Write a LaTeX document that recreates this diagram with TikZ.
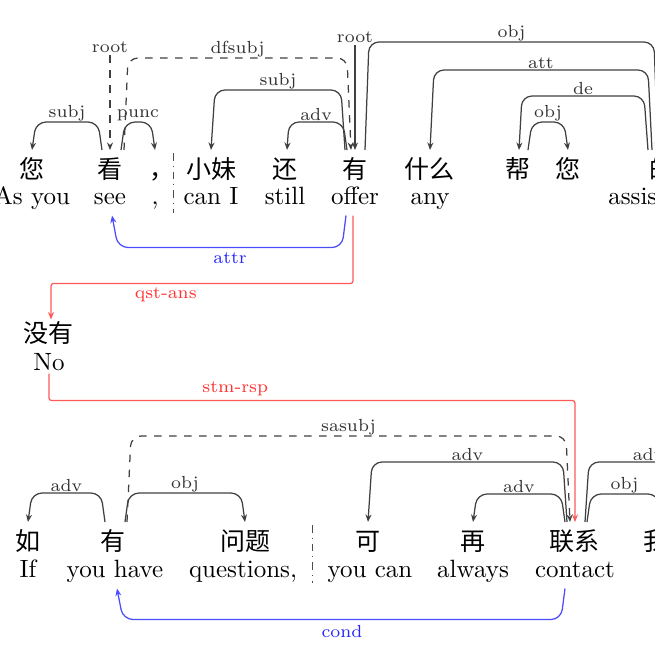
\documentclass[tikz,border=0pt]{standalone}
\usepackage{fontspec}
\newfontfamily\cjk{Noto Sans CJK SC}
\usetikzlibrary{arrows.meta,calc}

\tikzset{
  zh/.style={font=\cjk, anchor=base, inner sep=0pt, text height=11pt, text depth=1pt},
  en/.style={anchor=base, inner sep=0pt, text height=7pt, text depth=4.4pt},
  deparc/.style={draw=black!75, line width=0.5pt, rounded corners=4pt,
    -{Stealth[length=3pt,width=2.4pt]}},
  deptag/.style={font=\scriptsize, text=black!80, inner sep=0.3pt, above},
  roottag/.style={font=\scriptsize, text=black!80, inner sep=1pt},
  bluearc/.style={deparc, draw=blue!70},
  bluetag/.style={font=\scriptsize, text=blue!85, inner sep=2pt, below},
  redarc/.style={draw=red!65, line width=0.5pt, rounded corners=1pt,
    -{Stealth[length=3pt,width=2.4pt]}},
  redtag/.style={font=\scriptsize, text=red!80, inner sep=1.5pt},
  sepline/.style={draw=black!70, line width=0.4pt, dash dot}
}

\begin{document}
\begin{tikzpicture}[x=0.4pt,y=-0.4pt]
\useasboundingbox (0,0) rectangle (655,655);
\clip (0,0) rectangle (655,655);

% first sentence
\node[zh] (nin) at (32,178) {您};
\node[zh] (kan) at (110,178) {看};
\node[zh] (comma) at (162,178) {，};
\node[zh] (xiaomei) at (211,178) {小妹};
\node[zh] (hai) at (285,178) {还};
\node[zh] (you) at (355,178) {有};
\node[zh] (shenme) at (430,178) {什么};
\node[zh] (bang) at (518,178) {帮};
\node[zh] (nin2) at (568,178) {您};
\node[zh] (de) at (662,178) {的};

\node[en] (nin-en) at (32,204) {As you};
\node[en] (kan-en) at (110,204) {see};
\node[en] (comma-en) at (155,204) {,};
\node[en] (xiaomei-en) at (211,204) {can I};
\node[en] (hai-en) at (285,204) {still};
\node[en] (you-en) at (355,204) {offer};
\node[en] (shenme-en) at (430,204) {any};
\node[en] (de-en) at (662,204) {assistance};

\draw[sepline] (173,153) -- (173,213);

% answer
\node[zh, text height=8.8pt] (meiyou) at (49,342) {没有};
\node[en, text depth=1.2pt] (meiyou-en) at (49,370) {No};

% second sentence
\node[zh] (ru) at (28,550) {如};
\node[zh] (you2) at (113,550) {有};
\node[zh] (wenti) at (245,550) {问题};
\node[zh] (ke) at (368,550) {可};
\node[zh] (zai) at (473,550) {再};
\node[zh] (lianxi) at (575,550) {联系};
\node[zh] (women) at (668,550) {我们};
\coordinate (offright) at (712,522);

\node[en] (ru-en) at (28,577) {If};
\node[en] (you2-en) at (115,577) {you have};
\node[en] (wenti-en) at (243,577) {questions,};
\node[en] (ke-en) at (370,577) {you can};
\node[en] (zai-en) at (473,577) {always};
\node[en] (lianxi-en) at (575,577) {contact};
\node[en] (women-en) at (668,577) {us};

\draw[sepline] (312,525) -- (312,583);

% arcs of the first sentence
\node[roottag] (rootkan) at (110,47) {root};
\draw[deparc, dashed] (rootkan) -- (kan.north);
\node[roottag] (rootyou) at (355,37) {root};
\draw[deparc] (rootyou) -- (you.north);
\draw[deparc] ($(kan.north)+(-8,0)$) -- ++(-4,-28)
  -- node[deptag]{subj} ($(nin.north)+(4,-28)$) -- (nin.north);
\draw[deparc] ($(kan.north)+(11,0)$) -- ++(4,-28)
  -- node[deptag]{punc} ($(comma.north)+(-11,-28)$) -- ($(comma.north)+(-7,0)$);
\draw[deparc, dashed] ($(kan.north)+(14,0)$) -- ++(4,-92)
  -- node[deptag]{dfsubj} ($(you.north)+(-8,-92)$) -- ($(you.north)+(-4,0)$);
\draw[deparc] ($(you.north)+(-10,0)$) -- ++(-4,-60)
  -- node[deptag]{subj} ($(xiaomei.north)+(4,-60)$) -- (xiaomei.north);
\draw[deparc] ($(you.north)+(-8,0)$) -- ++(-4,-28)
  -- node[deptag]{adv} ($(hai.north)+(4,-28)$) -- ($(hai.north)+(2,0)$);
\draw[deparc] ($(you.north)+(10,0)$) -- ++(4,-108)
  -- node[deptag]{obj} ($(de.north)+(-8,-108)$) -- ($(de.north)+(-4,0)$);
\draw[deparc] ($(de.north)+(-10,0)$) -- ++(-4,-80)
  -- node[deptag]{att} ($(shenme.north)+(4,-80)$) -- (shenme.north);
\draw[deparc] ($(de.north)+(-14,0)$) -- ++(-4,-54)
  -- node[deptag]{de} ($(bang.north)+(4,-54)$) -- ($(bang.north)+(1,0)$);
\draw[deparc] ($(bang.north)+(10,0)$) -- ++(4,-28)
  -- node[deptag]{obj} ($(nin2.north)+(-4,-28)$) -- (nin2.north);
\draw[bluearc] ($(you-en.south)+(-9,0)$) -- ++(-4,32)
  -- node[bluetag]{attr} ($(kan-en.south)+(8,32)$) -- ($(kan-en.south)+(2,0)$);

% links between the sentences
\draw[redarc] ($(you-en.south)+(-2,0)$) -- ++(0,68)
  -| node[redtag, pos=0.31, below]{qst-ans} ($(meiyou.north)+(2,0)$);
\draw[redarc] (meiyou-en.south) -- ++(0,27)
  -| node[redtag, pos=0.177, above]{stm-rsp} (lianxi.north);

% arcs of the second sentence
\draw[deparc] ($(you2.north)+(-8,0)$) -- ++(-4,-29)
  -- node[deptag]{adv} ($(ru.north)+(4,-29)$) -- (ru.north);
\draw[deparc] ($(you2.north)+(12,0)$) -- ++(4,-29)
  -- node[deptag]{obj} ($(wenti.north)+(-4,-29)$) -- (wenti.north);
\draw[deparc, dashed] ($(you2.north)+(14,0)$) -- ++(4,-86)
  -- node[deptag]{sasubj} ($(lianxi.north)+(-9,-86)$) -- ($(lianxi.north)+(-5,0)$);
\draw[deparc] ($(lianxi.north)+(-8,0)$) -- ++(-4,-60)
  -- node[deptag]{adv} ($(ke.north)+(4,-60)$) -- (ke.north);
\draw[deparc] ($(lianxi.north)+(-10,0)$) -- ++(-4,-28)
  -- node[deptag]{adv} ($(zai.north)+(4,-28)$) -- (zai.north);
\draw[deparc] ($(lianxi.north)+(10,0)$) -- ++(4,-60)
  -- node[deptag]{adv} ($(offright)+(-4,-60)$) -- (offright);
\draw[deparc] ($(lianxi.north)+(12,0)$) -- ++(4,-28)
  -- node[deptag]{obj} ($(women.north)+(-10,-28)$) -- ($(women.north)+(-6,0)$);
\draw[bluearc] ($(lianxi-en.south)+(-10,0)$) -- ++(-4,31)
  -- node[bluetag]{cond} ($(you2-en.south)+(8,31)$) -- ($(you2-en.south)+(2,0)$);
\end{tikzpicture}
\end{document}
